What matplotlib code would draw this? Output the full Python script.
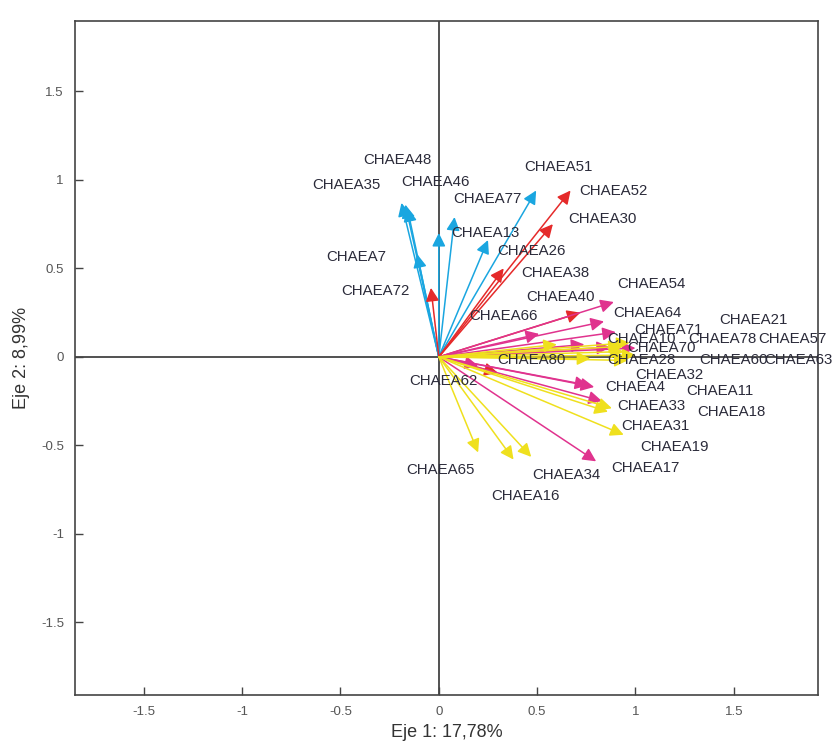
import matplotlib
matplotlib.use('Agg')
import matplotlib.pyplot as plt

plt.rcParams['font.family'] = ['Liberation Sans', 'DejaVu Sans']

# arrow tips per group (biplot loadings)
blue_x = [-0.19, -0.17, -0.16, -0.11, 0.0, 0.08, 0.25, 0.495]
blue_y = [0.87, 0.86, 0.84, 0.58, 0.70, 0.79, 0.66, 0.94]

red_x = [-0.04, 0.67, 0.58, 0.33, 0.72, 0.30]
red_y = [0.39, 0.94, 0.75, 0.50, 0.25, -0.09]

pink_x = [0.89, 0.51, 0.84, 0.90, 0.74, 0.87, 1.00, 0.79, 0.76, 0.83, 0.80, 0.20]
pink_y = [0.31, 0.13, 0.20, 0.14, 0.07, 0.055, 0.05, -0.17, -0.16, -0.25, -0.59, -0.05]

yellow_x = [0.97, 0.94, 1.00, 0.96, 0.93, 0.77, 0.88, 0.86, 0.94, 0.20, 0.38, 0.47, 0.60]
yellow_y = [0.08, 0.03, 0.01, -0.02, 0.06, -0.01, -0.29, -0.31, -0.44, -0.54, -0.58, -0.565, 0.07]

# variable labels and where they sit
labels = ['CHAEA48', 'CHAEA35', 'CHAEA46', 'CHAEA51', 'CHAEA52', 'CHAEA77', 'CHAEA30',
          'CHAEA13', 'CHAEA26', 'CHAEA7', 'CHAEA38', 'CHAEA72', 'CHAEA40', 'CHAEA54',
          'CHAEA66', 'CHAEA64', 'CHAEA21', 'CHAEA71', 'CHAEA10', 'CHAEA78', 'CHAEA57',
          'CHAEA70', 'CHAEA80', 'CHAEA28', 'CHAEA60', 'CHAEA63', 'CHAEA62', 'CHAEA32',
          'CHAEA4', 'CHAEA11', 'CHAEA33', 'CHAEA18', 'CHAEA31', 'CHAEA19', 'CHAEA65',
          'CHAEA34', 'CHAEA17', 'CHAEA16']
lab_x = [-0.21, -0.47, -0.015, 0.61, 0.89, 0.245, 0.83,
         0.235, 0.47, -0.42, 0.59, -0.32, 0.62, 1.08,
         0.33, 1.06, 1.60, 1.17, 1.03, 1.44, 1.80,
         1.13, 0.47, 1.03, 1.50, 1.83, 0.025, 1.17,
         1.00, 1.43, 1.08, 1.49, 1.10, 1.20, 0.01,
         0.65, 1.05, 0.44]
lab_y = [1.11, 0.97, 0.99, 1.07, 0.94, 0.89, 0.78,
         0.70, 0.60, 0.565, 0.475, 0.37, 0.34, 0.41,
         0.23, 0.25, 0.21, 0.15, 0.10, 0.10, 0.10,
         0.05, -0.02, -0.02, -0.02, -0.02, -0.135, -0.10,
         -0.17, -0.19, -0.28, -0.31, -0.39, -0.51, -0.64,
         -0.67, -0.63, -0.785]

groups = [
    (blue_x, blue_y, '#1aa6e0'),
    (red_x, red_y, '#e52a2a'),
    (pink_x, pink_y, '#e0338e'),
    (yellow_x, yellow_y, '#efe01e'),
]

fig = plt.figure(figsize=(8.39, 7.51), dpi=100)
ax = fig.add_axes([0.0894, 0.0746, 0.886, 0.898])

ax.axhline(0, color='#333333', lw=1.2, zorder=1)
ax.axvline(0, color='#333333', lw=1.2, zorder=1)

for xs, ys, c in groups:
    for x, y in zip(xs, ys):
        ax.annotate('', xy=(x, y), xytext=(0, 0),
                    arrowprops=dict(arrowstyle='-|>', color=c, lw=1.1,
                                    mutation_scale=20, shrinkA=0, shrinkB=0),
                    zorder=2)

for name, x, y in zip(labels, lab_x, lab_y):
    ax.text(x, y, name, ha='center', va='center', fontsize=10.8,
            color='#2b2b3a', zorder=3)

ax.set_xlim(-1.85, 1.93)
ax.set_ylim(-1.91, 1.90)
ax.set_xticks([-1.5, -1, -0.5, 0, 0.5, 1, 1.5])
ax.set_yticks([-1.5, -1, -0.5, 0, 0.5, 1, 1.5])
ax.set_xticklabels(['-1.5', '-1', '-0.5', '0', '0.5', '1', '1.5'])
ax.set_yticklabels(['-1.5', '-1', '-0.5', '0', '0.5', '1', '1.5'])
ax.tick_params(direction='in', length=6, width=1, color='#444444',
               labelsize=9.5, labelcolor='#555555', pad=8)
for s in ax.spines.values():
    s.set_color('#444444')
    s.set_linewidth(1.2)

ax.set_xlabel('Eje 1: 17,78%', fontsize=13, color='#333333', labelpad=4)
ax.set_ylabel('Eje 2: 8,99%', fontsize=13, color='#333333', labelpad=8)

fig.savefig('out.png', dpi=100)
